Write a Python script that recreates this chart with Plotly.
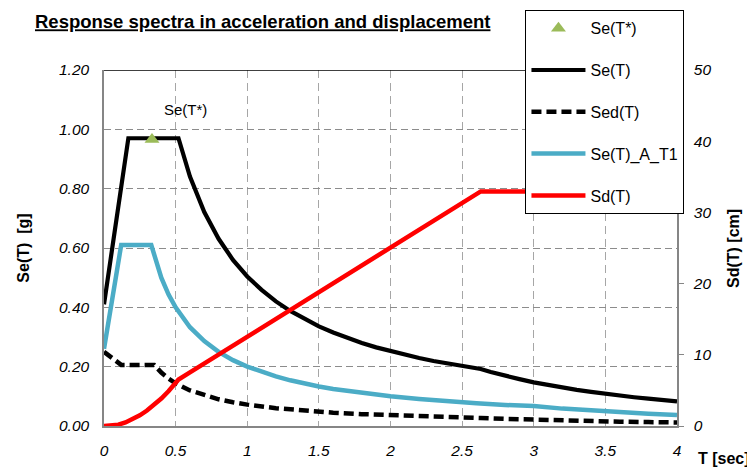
import plotly.graph_objects as go

# ---------------- data ----------------
# Se(T) elastic acceleration spectrum [g]
T_se = [0, 0.17, 0.52, 0.6, 0.7, 0.8, 0.9, 1.0, 1.1, 1.2, 1.3, 1.4, 1.5, 1.6, 1.7, 1.8,
        1.9, 2.0, 2.1, 2.2, 2.3, 2.4, 2.5, 2.63, 2.7, 2.8, 2.9, 3.0, 3.1, 3.2, 3.3, 3.4,
        3.5, 3.6, 3.7, 3.8, 3.9, 4.0]
Se = [0.41, 0.97, 0.97, 0.841, 0.721, 0.631, 0.560, 0.504, 0.459, 0.420, 0.388, 0.360,
      0.336, 0.315, 0.297, 0.280, 0.265, 0.252, 0.240, 0.229, 0.219, 0.210, 0.202, 0.192,
      0.182, 0.169, 0.158, 0.147, 0.138, 0.130, 0.122, 0.115, 0.108, 0.102, 0.097, 0.092,
      0.087, 0.083]

# Sed(T) design spectrum [g]
T_sed = [0, 0.12, 0.35, 0.4, 0.45, 0.5, 0.6, 0.7, 0.8, 0.9, 1.0, 1.2, 1.4, 1.6, 1.8, 2.0,
         2.2, 2.4, 2.63, 2.8, 3.0, 3.2, 3.4, 3.6, 3.8, 4.0]
Sed = [0.25, 0.206, 0.206, 0.180, 0.160, 0.144, 0.120, 0.103, 0.090, 0.080, 0.072, 0.060,
       0.052, 0.045, 0.040, 0.036, 0.033, 0.030, 0.027, 0.024, 0.021, 0.0185, 0.0164,
       0.0146, 0.0131, 0.0119]

# Se(T)_A_T1 spectrum [g]
T_a = [0, 0.12, 0.33, 0.4, 0.45, 0.5, 0.6, 0.7, 0.8, 0.9, 1.0, 1.1, 1.2, 1.3, 1.4, 1.5,
       1.6, 1.8, 2.0, 2.2, 2.4, 2.6, 2.8, 3.0, 3.2, 3.4, 3.6, 3.8, 4.0]
Se_A = [0.26, 0.61, 0.61, 0.50, 0.444, 0.40, 0.333, 0.286, 0.25, 0.222, 0.20, 0.182, 0.167,
        0.154, 0.143, 0.133, 0.125, 0.111, 0.10, 0.091, 0.083, 0.077, 0.071, 0.067, 0.0586,
        0.0519, 0.0463, 0.0416, 0.0375]

# Sd(T) displacement spectrum [cm]
T_sd = [0, 0.05, 0.1, 0.15, 0.17, 0.2, 0.25, 0.3, 0.35, 0.4, 0.45, 0.52, 0.6, 0.8, 1.0,
        1.2, 1.4, 1.6, 1.8, 2.0, 2.2, 2.4, 2.63, 3.0, 3.5, 4.0]
Sd = [0, 0.036, 0.184, 0.505, 0.697, 0.964, 1.506, 2.169, 2.952, 3.856, 4.880, 6.517,
      7.52, 10.02, 12.53, 15.04, 17.54, 20.05, 22.55, 25.06, 27.57, 30.07, 32.95, 32.95,
      32.95, 32.95]

# Se(T*) point
T_star = [0.335]
Se_star = [0.966]

x_ticks = [0, 0.5, 1, 1.5, 2, 2.5, 3, 3.5, 4]
x_ticktext = ["0", "0.5", "1", "1.5", "2", "2.5", "3", "3.5", "4"]
y_ticks = [0.0, 0.2, 0.4, 0.6, 0.8, 1.0, 1.2]
y2_ticks = [0, 10, 20, 30, 40, 50]

ARIAL = "Liberation Sans, Arial, sans-serif"

fig = go.Figure()
fig.add_trace(go.Scatter(x=T_se, y=Se, name="Se(T)", mode="lines",
                         line=dict(color="#000000", width=4.2),
                         legendgroup="b", legendrank=2))
fig.add_trace(go.Scatter(x=T_sed, y=Sed, name="Sed(T)", mode="lines",
                         line=dict(color="#000000", width=4.5, dash="10px,5px"),
                         legendgroup="c", legendrank=3))
fig.add_trace(go.Scatter(x=T_a, y=Se_A, name="Se(T)_A_T1", mode="lines",
                         line=dict(color="#4BACC6", width=4.5),
                         legendgroup="d", legendrank=4))
fig.add_trace(go.Scatter(x=T_star, y=Se_star, name="Se(T*)", mode="markers",
                         marker=dict(symbol="triangle-up", size=13, color="#9BBB59"),
                         legendgroup="a", legendrank=1))
fig.add_trace(go.Scatter(x=T_sd, y=Sd, name="Sd(T)", mode="lines", yaxis="y2",
                         line=dict(color="#FF0000", width=4.5),
                         legendgroup="e", legendrank=5))

tickfont = dict(family=ARIAL, size=15.5, color="#000000", style="italic")

fig.update_layout(
    width=747, height=462, autosize=False,
    margin=dict(l=96, r=78, t=62, b=44, pad=0, autoexpand=False),
    paper_bgcolor="white", plot_bgcolor="white",
    title=dict(text="<u>Response spectra in acceleration and displacement</u>",
               font=dict(family=ARIAL, size=18.5, color="#000000", weight="bold"),
               x=0.341, xanchor="center", xref="container",
               y=0.970, yanchor="middle", yref="container"),
    xaxis=dict(range=[0, 4], tickvals=x_ticks, ticktext=x_ticktext,
               showgrid=True, gridcolor="#A6A6A6", griddash="8px,5px", gridwidth=1,
               showline=True, linecolor="#868686", linewidth=1.5,
               zeroline=False, ticks="", tickfont=tickfont, ticklabelstandoff=10,
               automargin=False),
    yaxis=dict(range=[0, 1.2], tickvals=y_ticks, tickformat=".2f",
               showgrid=True, gridcolor="#8C8C8C", griddash="7px,4px", gridwidth=1.2,
               showline=True, linecolor="#868686", linewidth=1.5,
               zeroline=False, ticks="", tickfont=tickfont, ticklabelstandoff=10,
               automargin=False),
    yaxis2=dict(range=[0, 50], tickvals=y2_ticks, overlaying="y", side="right",
                showgrid=False, showline=True, linecolor="#868686", linewidth=1.5,
                zeroline=False, ticks="outside", ticklen=5, tickcolor="#868686",
                tickfont=tickfont, ticklabelstandoff=7, automargin=False),
    legend=dict(x=0.735, y=1.1685, xanchor="left", yanchor="top",
                bgcolor="white", bordercolor="#000000", borderwidth=1.3,
                font=dict(family=ARIAL, size=16, color="#000000"),
                traceorder="grouped", tracegroupgap=18, itemwidth=54),
    showlegend=True,
    shapes=[dict(type="line", xref="paper", yref="y", x0=0, x1=1, y0=1.2, y1=1.2,
                 line=dict(color="#000000", width=1.5), layer="above")],
    annotations=[
        dict(x=T_star[0], y=Se_star[0], xref="x", yref="y", text="Se(T*)",
             showarrow=False, xshift=34, yshift=30,
             font=dict(family=ARIAL, size=15, color="#000000")),
        dict(x=-0.142, y=0.5, xref="paper", yref="paper", text="Se(T)\u00a0 [g]",
             textangle=-90, showarrow=False, xanchor="center", yanchor="middle",
             font=dict(family=ARIAL, size=16, color="#000000", weight="bold")),
        dict(x=1.0977, y=0.5, xref="paper", yref="paper", text="Sd(T) [cm]",
             textangle=-90, showarrow=False, xanchor="center", yanchor="middle",
             font=dict(family=ARIAL, size=16, color="#000000", weight="bold")),
        dict(x=1.082, y=-0.09, xref="paper", yref="paper", text="T [sec]",
             showarrow=False, xanchor="center", yanchor="middle",
             font=dict(family=ARIAL, size=16, color="#000000", weight="bold")),
    ],
)

fig.write_html("out.html")
